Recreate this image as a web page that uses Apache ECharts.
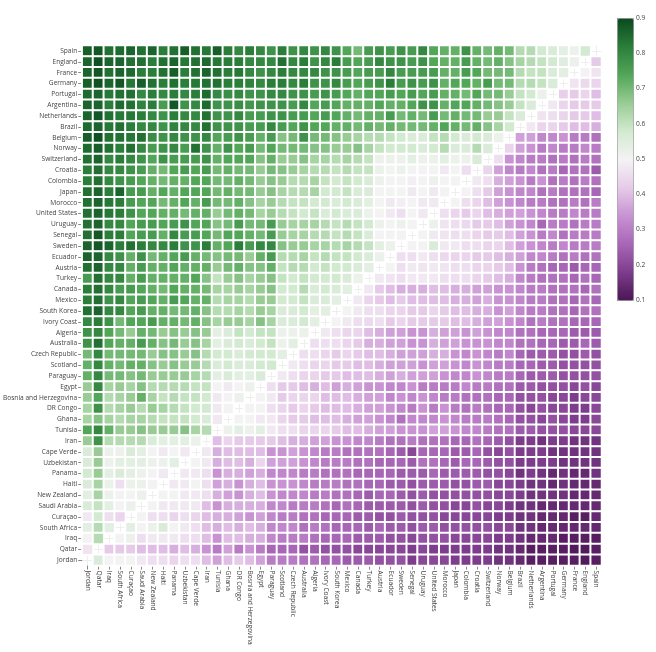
<!DOCTYPE html>
<html>
<head>
<meta charset="utf-8">
<script src="https://cdn.jsdelivr.net/npm/echarts@6/dist/echarts.min.js"></script>
<style>html,body{margin:0;padding:0;background:#fff}#c{width:656px;height:652px}</style>
</head>
<body>
<div id="c"></div>
<script>
// Row teams (top to bottom)
var rowTeams = ["Spain","England","France","Germany","Portugal","Argentina","Netherlands","Brazil","Belgium","Norway","Switzerland","Croatia","Colombia","Japan","Morocco","United States","Uruguay","Senegal","Sweden","Ecuador","Austria","Turkey","Canada","Mexico","South Korea","Ivory Coast","Algeria","Australia","Czech Republic","Scotland","Paraguay","Egypt","Bosnia and Herzegovina","DR Congo","Ghana","Tunisia","Iran","Cape Verde","Uzbekistan","Panama","Haiti","New Zealand","Saudi Arabia","Curaçao","South Africa","Iraq","Qatar","Jordan"];
// Column teams (left to right)
var colTeams = ["Jordan","Qatar","Iraq","South Africa","Curaçao","Saudi Arabia","New Zealand","Haiti","Panama","Uzbekistan","Cape Verde","Iran","Tunisia","Ghana","DR Congo","Bosnia and Herzegovina","Egypt","Paraguay","Scotland","Czech Republic","Australia","Algeria","Ivory Coast","South Korea","Mexico","Canada","Turkey","Austria","Ecuador","Sweden","Senegal","Uruguay","United States","Morocco","Japan","Colombia","Croatia","Switzerland","Norway","Belgium","Brazil","Netherlands","Argentina","Portugal","Germany","France","England","Spain"];
// Values in percent, one row per row team, columns in colTeams order
var winPct = [
[87,88,84,85,86,84,86,82,84,87,84,83,87,82,80,82,80,78,82,78,80,78,80,78,74,70,76,78,76,78,76,80,74,72,72,78,72,70,72,70,62,62,58,56,54,52,58,null],
[86,89,86,86,84,84,82,84,86,83,84,85,83,82,82,80,80,80,84,80,82,78,80,82,76,74,76,80,78,78,76,78,74,72,72,76,72,70,72,68,64,62,60,58,55,52,null,42],
[86,88,84,86,85,82,82,84,87,82,84,86,84,82,83,80,78,80,82,80,80,80,78,78,76,74,76,76,80,76,76,76,76,72,72,76,74,70,70,70,62,60,60,56,54,null,50,47],
[87,89,86,88,83,87,84,82,84,82,83,84,84,82,82,81,80,82,82,80,82,78,78,80,76,74,76,78,82,76,78,76,78,72,74,74,72,76,70,70,62,62,60,56,null,47,45,44],
[85,86,83,84,84,80,82,80,82,80,82,85,80,79,80,78,78,80,80,78,78,76,78,76,74,72,74,74,76,74,76,74,76,72,72,70,74,70,70,66,60,58,52,null,43,42,44,40],
[86,86,82,85,84,81,82,76,88,78,80,85,78,78,79,77,78,78,78,76,80,74,76,74,72,72,72,74,72,72,74,78,78,72,74,74,72,70,68,66,60,56,null,48,44,42,42,42],
[86,88,84,83,83,82,80,78,82,80,80,84,78,78,80,76,76,78,78,76,76,74,76,74,72,70,72,72,76,70,72,70,76,70,72,70,70,66,66,60,56,null,47,46,44,42,42,40],
[85,86,83,84,82,80,80,78,81,80,80,84,78,78,78,76,76,80,76,74,78,74,74,72,72,70,72,70,72,70,70,70,72,74,72,70,72,68,64,58,null,48,44,44,42,40,40,38],
[87,89,84,84,83,84,79,78,80,78,78,80,74,76,78,76,72,76,68,70,78,70,70,68,66,64,62,62,60,58,56,56,60,62,58,56,58,56,52,null,36,36,32,32,34,30,30,28],
[85,87,84,82,84,80,76,78,80,76,84,78,72,78,74,76,70,74,70,70,70,68,68,66,66,68,64,60,58,58,58,56,58,62,56,56,62,56,null,44,36,34,30,32,30,30,32,30],
[84,86,80,82,80,78,74,78,76,76,76,78,72,74,74,74,68,72,66,66,68,64,64,62,64,62,60,52,52,52,54,52,52,54,52,52,56,null,46,34,32,30,30,28,30,28,30,28],
[82,84,80,80,78,76,72,70,74,76,74,76,70,72,70,70,66,70,68,66,64,62,62,60,62,60,60,52,50,52,50,50,50,48,50,46,null,44,36,32,30,32,28,30,26,28,28,24],
[82,84,80,78,76,74,72,70,72,72,74,74,70,70,72,70,66,68,66,62,62,64,60,58,60,58,56,52,50,50,49,50,52,50,50,null,48,46,38,36,34,30,34,28,30,28,30,28],
[84,86,82,86,76,76,72,74,72,74,74,74,70,72,70,70,66,68,64,62,62,64,58,58,60,56,56,50,50,50,48,50,48,50,null,50,46,42,36,34,32,32,28,30,28,28,28,26],
[84,86,83,82,76,74,74,70,72,74,72,76,70,70,72,68,64,66,62,60,60,58,58,56,58,56,54,50,48,49,50,48,48,null,50,46,44,40,36,34,32,30,30,28,28,30,28,30],
[84,86,83,82,78,74,74,72,72,70,72,72,66,70,72,70,64,66,62,60,58,60,56,58,56,56,52,50,48,46,50,48,null,46,44,42,44,40,38,36,36,34,32,30,30,32,30,30],
[84,86,80,80,74,76,76,74,76,78,74,74,68,70,76,70,70,76,66,64,64,64,62,60,62,60,58,52,50,52,50,null,52,47,46,45,42,42,40,36,34,32,26,30,30,28,30,30],
[84,88,82,82,74,76,76,72,80,76,76,74,70,74,74,72,70,76,66,64,64,62,62,60,62,60,56,50,50,50,null,50,48,47,46,46,44,42,42,40,36,34,30,32,28,30,30,30],
[86,88,86,82,84,82,80,80,82,78,78,82,72,74,82,76,80,80,68,66,66,64,64,62,64,62,60,54,52,null,50,50,56,48,48,46,46,44,44,40,36,34,32,30,32,30,30,30],
[86,86,80,78,72,78,70,72,74,76,72,70,68,70,70,66,72,76,62,62,64,60,62,60,60,58,56,52,null,46,46,48,46,45,44,44,42,42,40,38,36,32,32,30,28,30,28,28],
[84,86,80,80,72,76,72,72,74,72,72,72,66,70,72,68,68,72,60,62,62,58,60,58,58,56,54,null,50,46,48,47,48,47,46,46,44,44,42,40,34,30,28,26,26,24,26,26],
[76,84,80,80,72,76,72,72,72,72,74,68,60,66,68,64,66,68,60,58,60,58,58,58,56,52,null,48,47,46,48,48,48,46,46,46,44,42,40,38,32,30,28,28,28,26,28,26],
[82,84,80,76,76,74,72,70,74,72,72,70,64,64,66,64,66,68,58,58,62,56,58,56,54,null,48,42,40,38,38,38,40,40,38,38,36,36,34,34,32,30,30,28,28,28,26,28],
[82,84,78,80,74,76,74,72,76,74,72,72,62,64,64,62,66,66,58,58,60,56,56,54,null,48,44,42,40,42,40,40,40,40,38,38,36,38,34,34,32,30,30,28,28,26,28,26],
[84,86,80,80,74,76,72,72,70,70,72,68,62,62,64,62,66,64,56,56,58,54,54,null,50,48,46,46,44,44,42,42,44,42,40,40,38,38,34,36,32,30,30,28,28,26,28,28],
[80,82,78,70,74,74,76,72,72,70,72,68,64,66,66,64,68,64,56,56,58,54,null,50,48,46,45,46,42,44,42,42,42,42,40,40,38,36,36,34,32,28,30,28,28,26,26,26],
[78,80,74,70,66,72,70,66,68,66,68,66,54,56,60,58,60,60,52,52,52,null,48,46,44,44,40,38,36,36,34,34,38,36,36,34,36,34,32,32,28,28,26,26,26,24,24,24],
[78,84,74,72,72,76,72,68,70,66,68,64,54,56,58,56,58,60,52,54,null,46,46,46,44,42,38,38,36,36,34,34,38,36,36,34,34,34,32,32,28,28,26,26,24,24,26,24],
[70,80,70,70,70,70,66,68,68,66,68,62,58,58,56,58,58,58,54,null,46,46,44,42,44,42,40,40,38,36,36,36,38,38,34,32,34,32,30,32,26,24,24,24,22,22,24,22],
[72,80,72,70,72,72,68,66,68,66,66,62,56,58,56,56,58,58,null,48,46,44,44,42,42,40,40,38,36,36,36,34,36,36,34,32,34,32,30,30,26,26,24,24,22,22,22,22],
[72,80,70,70,68,70,66,66,66,66,64,62,54,56,54,54,56,null,48,46,44,44,42,42,40,40,40,38,36,38,36,36,36,34,32,32,34,32,30,30,26,24,24,24,22,22,22,22],
[66,80,64,66,64,68,62,62,62,62,60,60,50,48,50,52,null,46,42,42,40,38,40,36,38,36,34,34,32,32,34,30,30,30,30,32,30,30,28,28,24,24,22,22,22,20,22,20],
[66,74,62,64,66,72,64,60,62,60,60,58,48,50,52,null,50,48,42,44,44,44,40,40,40,38,36,36,32,34,32,34,32,30,30,28,28,28,26,26,22,22,22,20,20,18,20,20],
[64,78,62,64,66,62,66,64,62,60,58,58,48,50,null,50,50,46,44,42,44,42,40,40,40,38,36,36,34,32,30,34,30,34,30,28,30,28,26,26,22,20,22,20,20,18,18,20],
[64,68,64,62,64,64,62,60,60,60,58,56,48,null,50,50,48,48,44,42,42,40,40,40,38,36,36,34,32,28,32,32,32,34,32,30,30,30,28,26,22,22,20,22,20,18,18,20],
[74,80,72,66,66,68,66,66,66,68,64,62,null,52,54,52,54,48,46,46,44,44,44,42,40,40,38,36,36,34,34,34,36,36,34,32,32,30,28,28,24,24,22,22,22,20,20,20],
[66,78,62,62,62,62,56,54,54,54,52,null,40,44,42,42,42,42,40,38,38,36,36,34,34,32,32,30,28,28,30,28,28,28,26,26,28,26,24,22,18,18,16,18,18,16,16,16],
[56,66,52,52,56,54,50,48,50,48,null,48,38,40,40,40,40,34,34,36,34,32,30,30,28,28,28,28,26,24,20,26,26,26,24,24,26,22,20,22,18,18,18,16,16,16,16,16],
[56,66,52,54,54,54,52,52,54,null,50,48,38,40,40,38,44,36,36,36,34,32,30,30,30,28,28,26,26,26,24,28,28,26,24,26,26,24,22,22,18,18,18,18,16,16,16,16],
[58,66,54,56,54,52,50,48,null,48,48,46,34,38,38,36,38,32,32,32,30,30,28,28,28,26,26,26,26,24,24,24,26,24,24,24,24,22,22,20,16,18,16,14,16,14,14,16],
[56,64,52,46,52,52,50,null,48,48,50,46,36,38,34,38,40,34,34,34,32,30,30,30,28,28,26,26,24,24,22,24,24,24,22,22,24,24,20,20,18,16,16,14,16,14,14,14],
[54,64,52,50,50,52,null,50,50,48,48,46,38,36,34,38,40,34,32,32,32,30,30,28,28,26,24,26,26,24,22,24,22,22,22,22,22,22,20,20,18,16,16,16,16,14,14,14],
[56,60,54,50,52,null,50,48,48,48,48,40,34,38,38,38,38,32,32,30,30,30,28,26,28,26,24,24,24,24,22,24,22,22,20,20,22,20,20,18,16,16,14,14,14,14,14,14],
[48,58,46,44,null,50,46,46,44,46,44,40,38,38,36,34,36,32,30,30,28,28,26,26,26,24,24,22,22,24,22,22,22,20,20,20,20,20,18,18,16,16,14,14,14,12,12,14],
[54,62,54,null,54,50,52,56,50,48,46,40,38,40,38,40,38,32,32,32,28,30,28,26,26,26,24,26,24,24,22,24,24,22,22,22,22,22,20,20,16,16,14,14,14,14,14,14],
[50,62,null,50,52,46,48,48,48,46,46,40,34,40,40,38,38,32,30,30,30,28,26,26,26,24,24,24,22,22,20,22,22,22,20,20,20,20,18,18,16,14,14,14,12,12,12,12],
[47,null,42,42,42,40,40,40,38,40,38,34,30,36,30,34,30,26,26,26,22,24,22,22,22,20,20,20,20,20,18,20,18,18,18,18,18,18,16,16,14,12,12,12,12,11,11,12],
[null,56,50,50,50,48,46,46,44,46,46,40,36,40,42,40,36,30,30,30,28,28,26,26,24,24,24,22,22,22,18,20,20,20,18,18,18,18,16,16,14,12,12,12,12,12,11,12]
];
var colorStops = ['#4a1654','#7d3c8c','#a866b6','#c892d3','#e6cbe9','#f4f3f4','#d2ead0','#98cc94','#52a658','#2a7e3a','#0b4a1f'];

var heatData = [];
for (var r = 0; r < winPct.length; r++) {
  for (var c = 0; c < winPct[r].length; c++) {
    if (winPct[r][c] !== null) heatData.push([c, r, winPct[r][c] / 100]);
  }
}
var FONT = '"Open Sans", sans-serif';
var chart = echarts.init(document.getElementById('c'), null, {renderer: 'canvas'});
chart.setOption({
  animation: false,
  backgroundColor: '#fff',
  grid: [
    {left: 81.5, top: 45.6, width: 520, height: 520, containLabel: false},
    {left: 617, top: 18, width: 16, height: 282, containLabel: false}
  ],
  xAxis: [
    {type: 'category', data: colTeams, gridIndex: 0, position: 'bottom',
     axisLine: {show: false},
     axisTick: {show: true, length: 4, alignWithLabel: true, interval: 0, lineStyle: {color: '#888'}},
     axisLabel: {interval: 0, rotate: -90, fontSize: 6.6, color: '#444', fontFamily: FONT, margin: 5},
     splitLine: {show: true, alignWithLabel: true, interval: 0, lineStyle: {color: '#eeeeee', width: 1}}},
    {type: 'value', gridIndex: 1, show: false, min: 0, max: 1}
  ],
  yAxis: [
    {type: 'category', data: rowTeams, gridIndex: 0, inverse: true,
     axisLine: {show: false},
     axisTick: {show: true, length: 4, alignWithLabel: true, interval: 0, lineStyle: {color: '#888'}},
     axisLabel: {interval: 0, fontSize: 6.6, color: '#444', fontFamily: FONT, margin: 5},
     splitLine: {show: true, alignWithLabel: true, interval: 0, lineStyle: {color: '#eeeeee', width: 1}}},
    {type: 'value', gridIndex: 1, position: 'right', min: 0.1, max: 0.9, interval: 0.1,
     axisLine: {show: false}, splitLine: {show: false},
     axisTick: {show: true, length: 2, lineStyle: {color: '#666'}},
     axisLabel: {fontSize: 6.6, color: '#444', fontFamily: FONT, margin: 3,
       formatter: function (v) { return v.toFixed(1); }}}
  ],
  visualMap: {
    type: 'continuous', min: 0.1, max: 0.9, seriesIndex: 0,
    calculable: false, orient: 'vertical',
    left: 617, top: 18, itemWidth: 16, itemHeight: 282, padding: 0,
    borderColor: '#999', borderWidth: 1,
    text: null, showLabel: false, hoverLink: false,
    inRange: {color: colorStops}
  },
  series: [{
    type: 'heatmap', xAxisIndex: 0, yAxisIndex: 0, data: heatData,
    itemStyle: {borderColor: '#fff', borderWidth: 2},
    emphasis: {disabled: true}
  }]
});
</script>
</body>
</html>
